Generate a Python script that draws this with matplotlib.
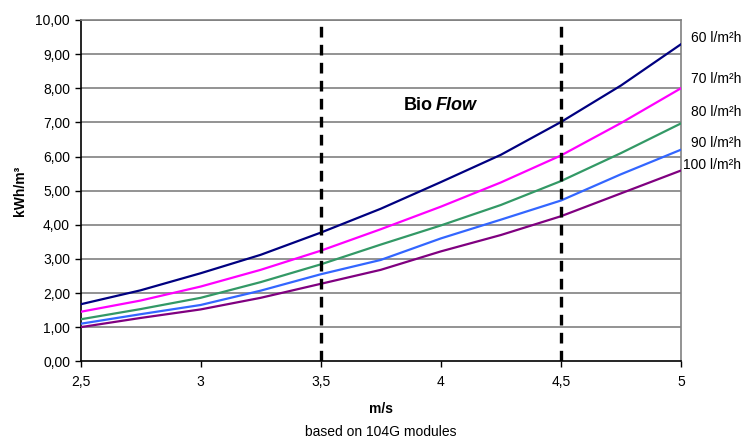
import matplotlib
matplotlib.use("Agg")
import matplotlib.pyplot as plt

plt.rcParams["font.family"] = ["Liberation Sans", "DejaVu Sans"]

# velocity (m/s) and specific energy (kWh/m3) per flux
velocity = [2.5, 2.75, 3.0, 3.25, 3.5, 3.75, 4.0, 4.25, 4.5, 4.75, 5.0]
flux_60 = [1.67, 2.08, 2.58, 3.12, 3.77, 4.47, 5.25, 6.05, 7.01, 8.08, 9.29]
flux_70 = [1.45, 1.78, 2.19, 2.68, 3.24, 3.87, 4.53, 5.24, 6.03, 6.98, 8.00]
flux_80 = [1.23, 1.53, 1.86, 2.32, 2.84, 3.42, 3.98, 4.58, 5.28, 6.10, 6.97]
flux_90 = [1.10, 1.38, 1.65, 2.07, 2.55, 2.97, 3.60, 4.15, 4.71, 5.48, 6.20]
flux_100 = [1.00, 1.27, 1.52, 1.86, 2.27, 2.68, 3.22, 3.70, 4.25, 4.92, 5.59]

series_labels = ["60 l/m²h", "70 l/m²h", "80 l/m²h", "90 l/m²h", "100 l/m²h"]
series_colors = ["#000080", "#FF00FF", "#339966", "#3366FF", "#800080"]
label_y = [9.47, 8.26, 7.29, 6.41, 5.74]
label_x = [5.04, 5.04, 5.04, 5.04, 5.01]

x_ticks = [2.5, 3, 3.5, 4, 4.5, 5]
x_tick_labels = ["2,5", "3", "3,5", "4", "4,5", "5"]
y_ticks = list(range(0, 11))
y_tick_labels = [f"{v},00" for v in y_ticks]
marker_lines = [3.5, 4.5]

fig = plt.figure(figsize=(7.56, 4.43), dpi=100)
ax = fig.add_axes([0.1065, 0.1844, 0.7943, 0.7705])

for y in y_ticks[1:]:
    ax.axhline(y, color="#808080", linewidth=1.2, zorder=1)

all_series = [flux_60, flux_70, flux_80, flux_90, flux_100]
for vals, color in zip(all_series, series_colors):
    ax.plot(velocity, vals, color=color, linewidth=1.6, zorder=3)

for xv in marker_lines:
    ax.axvline(xv, color="black", linewidth=2.4, linestyle=(0, (3.2, 2.2)), zorder=4)

for lab, lx, ly in zip(series_labels, label_x, label_y):
    ax.text(lx, ly, lab, fontsize=10, va="center", ha="left", clip_on=False)

bio = ax.text(3.845, 7.5, "Bio", fontsize=13, fontweight="bold", va="center", ha="left")
ax.annotate("Flow", xy=(1, 0.5), xycoords=bio, xytext=(2, 0), textcoords="offset points",
            fontsize=13, fontweight="bold", fontstyle="italic", va="center", ha="left")

ax.set_xlim(2.5, 5)
ax.set_ylim(0, 10)
ax.set_xticks(x_ticks)
ax.set_xticklabels(x_tick_labels)
ax.set_yticks(y_ticks)
ax.set_yticklabels(y_tick_labels)
ax.tick_params(axis="both", labelsize=10, length=4, width=1, direction="out")
ax.tick_params(axis="x", pad=6)

for side in ["top", "right"]:
    ax.spines[side].set_color("#808080")
    ax.spines[side].set_linewidth(1.2)
for side in ["left", "bottom"]:
    ax.spines[side].set_color("black")
    ax.spines[side].set_linewidth(1.2)

ax.set_xlabel("m/s", fontsize=10, fontweight="bold", labelpad=9)
ax.set_ylabel("kWh/m³", fontsize=10, fontweight="bold", labelpad=6)

fig.text(0.504, 0.025, "based on 104G modules", fontsize=10, ha="center", va="center")

fig.savefig("out.png", dpi=100)
